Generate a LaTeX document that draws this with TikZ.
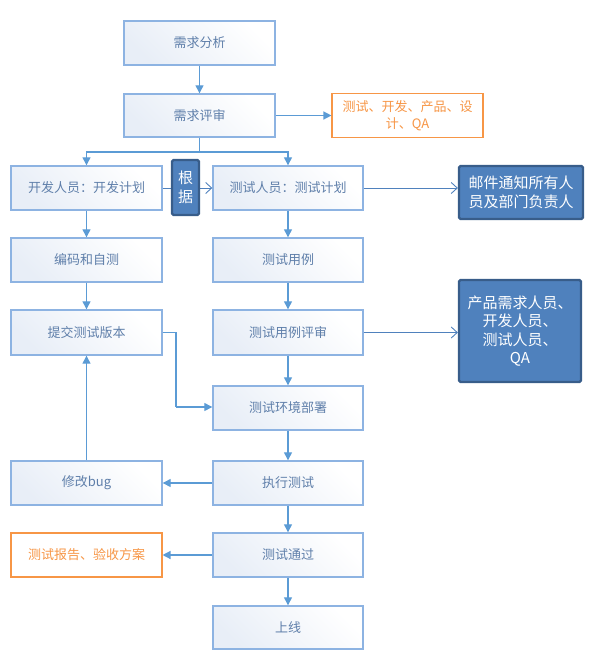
\documentclass[tikz,border=0pt]{standalone}
\usepackage{fontspec}
\setmainfont{Noto Sans CJK SC}
\usetikzlibrary{arrows.meta}
\definecolor{boxline}{HTML}{8DB3E2}
\definecolor{boxtxt}{HTML}{5F7FAA}
\definecolor{boxshade}{HTML}{E8EEF7}
\definecolor{arr}{HTML}{5B9BD5}
\definecolor{org}{HTML}{F79646}
\definecolor{dkfill}{HTML}{4F81BD}
\definecolor{dkline}{HTML}{385D8A}
\tikzset{
  x=1pt,y=-1pt,
  flowbox/.style={draw=boxline, line width=1.4pt, left color=boxshade, right color=white, shading angle=135,
    minimum width=151pt, minimum height=44pt, inner sep=2pt, text=boxtxt, font=\fontsize{13}{15}\selectfont},
  orgbox/.style={draw=org, line width=1.1pt, fill=white, minimum width=151pt, minimum height=44pt,
    text=org, align=center, font=\fontsize{13}{17}\selectfont},
  darkbox/.style={draw=dkline, line width=2.2pt, fill=dkfill, rounded corners=1.5pt, text=white,
    align=center, font=\fontsize{15}{18.5}\selectfont, inner sep=1pt},
  flow/.style={draw=arr, line width=1.3pt, -{Triangle[length=8pt,width=8pt]}},
  thin/.style={draw=dkfill, line width=0.9pt, -{Straight Barb[length=6pt,width=11pt,line width=0.9pt]}},
}
\begin{document}
\begin{tikzpicture}
\useasboundingbox (0,0) rectangle (589,669);
\node[flowbox] (n1) at (199.5,43) {需求分析};
\node[flowbox, minimum height=43pt] (n2) at (199.5,115.5) {需求评审};
\node[orgbox] (r1) at (407.5,115.5) {测试、开发、产品、设\\计、QA};
\node[flowbox] (dev) at (86.5,188) {开发人员：开发计划};
\node[flowbox, minimum width=150pt] (test) at (288,188) {测试人员：测试计划};
\node[darkbox, minimum width=124pt, minimum height=53pt] (mail) at (521,192.5) {邮件通知所有人\\员及部门负责人};
\node[flowbox] (code) at (86.5,260) {编码和自测};
\node[flowbox, minimum width=150pt] (case) at (288,260) {测试用例};
\node[flowbox, minimum height=45pt] (submit) at (86.5,332.5) {提交测试版本};
\node[flowbox, minimum width=150pt, minimum height=45pt] (review) at (288,332.5) {测试用例评审};
\node[darkbox, minimum width=122pt, minimum height=102pt] (people) at (520,331) {产品需求人员、\\开发人员、\\测试人员、\\QA};
\node[flowbox, minimum width=150pt] (env) at (288,408) {测试环境部署};
\node[flowbox] (bug) at (86.5,483) {修改bug};
\node[flowbox, minimum width=150pt] (exec) at (288,483) {执行测试};
\node[orgbox] (report) at (86.5,555) {测试报告、验收方案};
\node[flowbox, minimum width=150pt] (pass) at (288,555) {测试通过};
\node[flowbox, minimum width=150pt, minimum height=43pt] (online) at (288,627.5) {上线};
\coordinate (br) at (199.5,152);
\coordinate (sb) at (176,332.5);
\coordinate (sc) at (176,407);
% connectors
\draw[flow] (n1) -- (n2);
\draw[flow] (n2.east) -- (r1.west);
\draw[draw=arr, line width=1.3pt] (n2.south) -- (br);
\draw[flow] (br) -| (dev.north);
\draw[flow] (br) -| (test.north);
\draw[thin] (dev.east) -- (test.west);
\node[darkbox, minimum width=27pt, minimum height=55pt] (gen) at (185.5,187.5) {根\\据};
\draw[thin] (test.east) -- (mail.west |- test.east);
\draw[flow] (dev) -- (code);
\draw[flow] (test) -- (case);
\draw[flow] (code) -- (submit);
\draw[flow] (case) -- (review);
\draw[thin] (review.east) -- (people.west |- review.east);
\draw[flow] (review) -- (env);
\draw[draw=arr, line width=1.3pt] (submit.east) -- (sb) -- (sc);
\draw[flow] (sc) -- (env.west |- sc);
\draw[flow] (env) -- (exec);
\draw[flow] (exec) -- (bug);
\draw[flow] (bug) -- (submit);
\draw[flow] (exec) -- (pass);
\draw[flow] (pass) -- (report);
\draw[flow] (pass) -- (online);
\end{tikzpicture}
\end{document}
